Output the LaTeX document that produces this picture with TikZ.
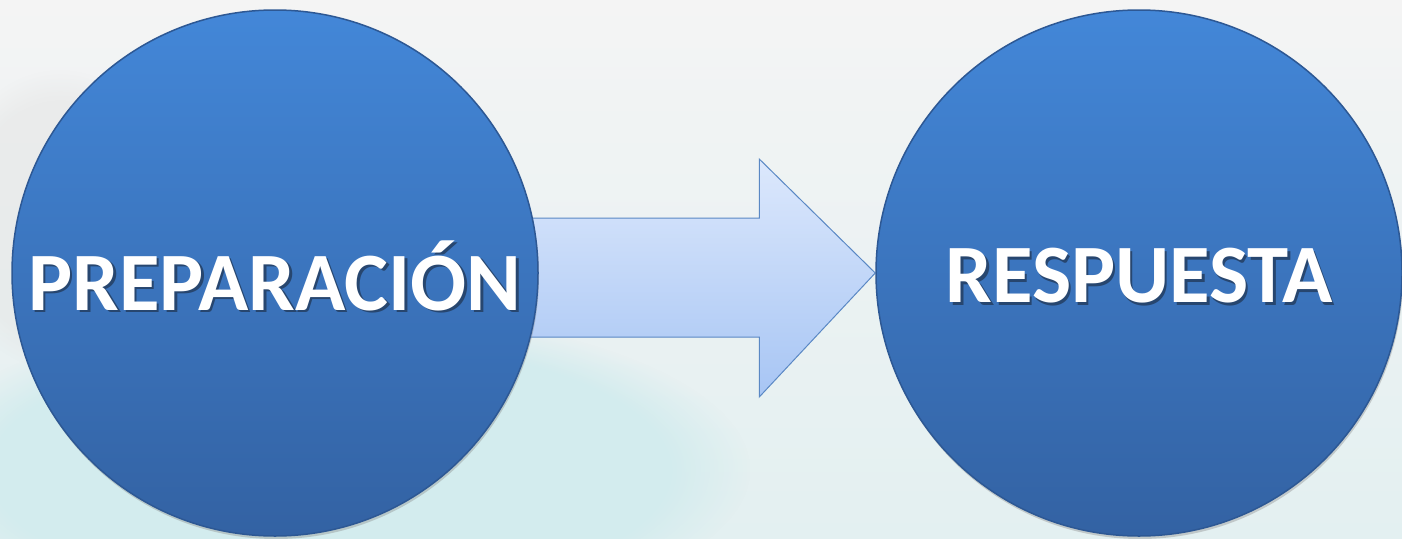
\documentclass[tikz,border=0pt]{standalone}
\usepackage{fontspec}
\setmainfont{Carlito}
\usetikzlibrary{shadings,shadows,calc,fadings}
\pgfdeclarelayer{back}
\pgfdeclarelayer{mid}
\pgfsetlayers{back,mid,main}
\definecolor{circtop}{HTML}{4387D8}
\definecolor{circbot}{HTML}{3362A3}
\definecolor{circline}{HTML}{2D5894}
\definecolor{arrtop}{HTML}{DCE8FC}
\definecolor{arrbot}{HTML}{A7C5F4}
\definecolor{arrline}{HTML}{5A88C4}
\definecolor{bgtop}{HTML}{F4F4F4}
\definecolor{bgbot}{HTML}{E3F0F1}
\definecolor{bgcyan}{HTML}{D3ECEE}
\definecolor{txtshadow}{HTML}{27466F}
\newcommand\shtext[1]{\makebox[0pt][l]{\raisebox{-2.5pt}{\hspace{2.5pt}\textcolor{txtshadow}{#1}}}#1}
\tikzset{
  stagecircle/.style={circle, minimum size=526pt, inner sep=0pt,
    top color=circtop, bottom color=circbot, draw=circline, line width=1.5pt,
    drop shadow={opacity=0.35, shadow xshift=1pt, shadow yshift=-3pt},
    text=white, font=\fontsize{83}{90}\selectfont\bfseries},
  stagetext/.style={text=white, font=\fontsize{83}{90}\selectfont\bfseries, inner sep=0pt},
  blockarrow/.style={top color=arrtop, bottom color=arrbot, draw=arrline, line width=1pt, line join=miter}
}
\begin{document}
\begin{tikzpicture}[x=1pt,y=-1pt]
\useasboundingbox (0,0) rectangle (1402,538);
\begin{pgfonlayer}{back}
  \fill[top color=bgtop, bottom color=bgbot] (0,0) rectangle (1402,538);
  \fill[bgcyan, path fading=circle with fuzzy edge 20 percent] (330,470) ellipse (420pt and 160pt);
  \fill[white!80!gray, opacity=0.5, path fading=circle with fuzzy edge 20 percent] (60,220) ellipse (120pt and 150pt);
\end{pgfonlayer}
\node[stagecircle] (prep) at (275,273) {};
\node[stagecircle] (resp) at (1139,273) {};
\node[stagetext, yshift=-4pt] (preptext) at (prep.center) {\shtext{PREPARACIÓN}};
\node[stagetext, yshift=-4pt] (resptext) at (resp.center) {\shtext{RESPUESTA}};
\begin{pgfonlayer}{mid}
  \draw[blockarrow] ($(prep.center)+(225,-55)$) coordinate (a1)
    -- ($(resp.west)+(-116,-55)$) coordinate (a2)
    -- ($(resp.west)+(-116,-114)$) coordinate (a3)
    -- (resp.west)
    -- ($(resp.west)+(-116,124)$) coordinate (a5)
    -- ($(resp.west)+(-116,64)$) coordinate (a6)
    -- ($(prep.center)+(225,64)$) coordinate (a7)
    -- cycle;
\end{pgfonlayer}
\end{tikzpicture}
\end{document}
